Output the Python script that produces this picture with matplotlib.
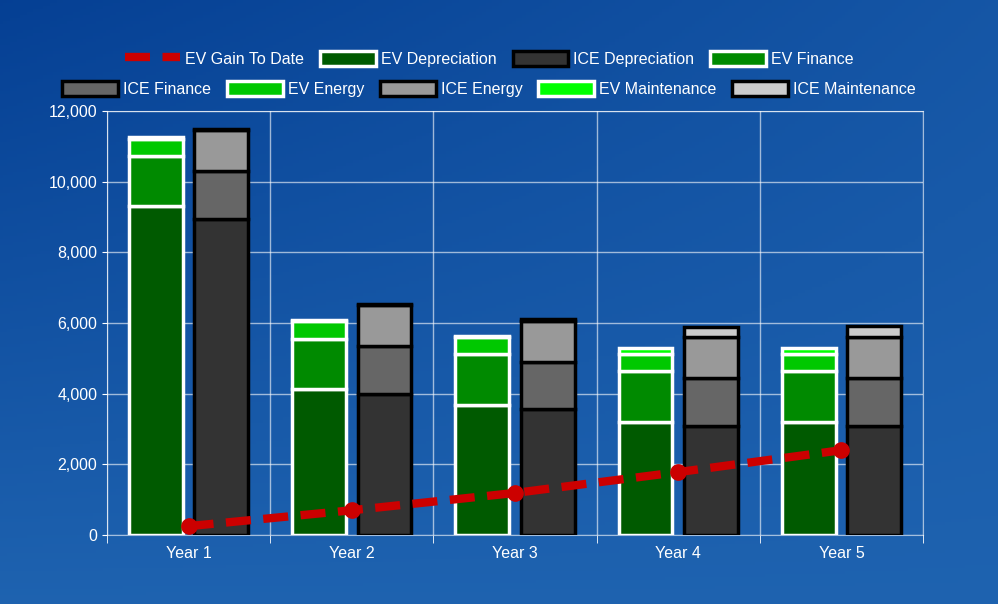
import numpy as np
import matplotlib.pyplot as plt
from matplotlib.patches import Patch
from matplotlib.lines import Line2D

plt.rcParams["font.family"] = "Liberation Sans"

years = ["Year 1", "Year 2", "Year 3", "Year 4", "Year 5"]
ev_depreciation = [9300, 4130, 3680, 3200, 3200]
ev_finance = [1430, 1420, 1440, 1440, 1440]
ev_energy = [480, 500, 480, 480, 480]
ev_maintenance = [40, 30, 30, 170, 170]
ice_depreciation = [8950, 3990, 3570, 3090, 3090]
ice_finance = [1350, 1360, 1330, 1360, 1360]
ice_energy = [1160, 1160, 1160, 1160, 1160]
ice_maintenance = [40, 40, 40, 280, 310]
ev_gain = [250, 700, 1190, 1780, 2400]

fig = plt.figure(figsize=(9.98, 6.04), dpi=100)

# sky-like background gradient
bg = fig.add_axes([0, 0, 1, 1], zorder=-10)
yy, xx = np.mgrid[0:1:200j, 0:1:300j]
t = np.clip(0.55 * yy + 0.35 * xx * (1 - yy), 0, 1)
c0 = np.array([0.02, 0.25, 0.58])
c1 = np.array([0.20, 0.50, 0.78])
img = c0 + (c1 - c0) * t[..., None]
bg.imshow(img, aspect="auto", extent=[0, 1, 0, 1], origin="upper")
bg.axis("off")

ax = fig.add_axes([107 / 998, 1 - 535 / 604, (923 - 107) / 998, (535 - 111) / 604])
ax.patch.set_alpha(0)
x = np.arange(len(years))
w = 0.33
off = 0.2

ev_cols = ["#005a00", "#008a00", "#00c800", "#00ff00"]
ice_cols = ["#333333", "#666666", "#999999", "#cccccc"]
ev_stack = [ev_depreciation, ev_finance, ev_energy, ev_maintenance]
ice_stack = [ice_depreciation, ice_finance, ice_energy, ice_maintenance]

bottom = np.zeros(len(years))
for vals, col in zip(ev_stack, ev_cols):
    ax.bar(x - off, vals, w, bottom=bottom, color=col, edgecolor="white", linewidth=2.5, zorder=3)
    bottom += vals
bottom = np.zeros(len(years))
for vals, col in zip(ice_stack, ice_cols):
    ax.bar(x + off, vals, w, bottom=bottom, color=col, edgecolor="black", linewidth=2.5, zorder=3)
    bottom += vals

ax.plot(x, ev_gain, color="#cc0000", lw=6, dashes=(3, 1.5), marker="o", ms=11, zorder=5)

ax.set_xlim(-0.5, 4.5)
ax.set_ylim(0, 12000)
ax.set_yticks(range(0, 12001, 2000))
ax.yaxis.set_major_formatter(plt.FuncFormatter(lambda v, p: f"{int(v):,}"))
ax.set_xticks(x)
ax.set_xticklabels(years)
ax.set_xticks(np.arange(-0.5, 5, 1), minor=True)
ax.grid(True, which="minor", axis="x", color="white", alpha=0.6, lw=1)
ax.grid(True, which="major", axis="y", color="white", alpha=0.6, lw=1)
ax.tick_params(colors="white", labelsize=11.5, which="both")
ax.tick_params(axis="x", which="major", length=0, pad=8)
ax.tick_params(axis="x", which="minor", length=6)
for s in ax.spines.values():
    s.set_color("white")
    s.set_alpha(0.6)

def box(fc, ec):
    return Patch(facecolor=fc, edgecolor=ec, linewidth=2.5)

row1 = [Line2D([], [], color="#cc0000", lw=6, dashes=(3, 1.5)), box(ev_cols[0], "white"),
        box(ice_cols[0], "black"), box(ev_cols[1], "white")]
lab1 = ["EV Gain To Date", "EV Depreciation", "ICE Depreciation", "EV Finance"]
row2 = [box(ice_cols[1], "black"), box(ev_cols[2], "white"), box(ice_cols[2], "black"),
        box(ev_cols[3], "white"), box(ice_cols[3], "black")]
lab2 = ["ICE Finance", "EV Energy", "ICE Energy", "EV Maintenance", "ICE Maintenance"]
for h, l, yp in [(row1, lab1, 0.903), (row2, lab2, 0.853)]:
    fig.legend(h, l, loc="center", bbox_to_anchor=(0.49, yp), ncol=len(h), frameon=False,
               labelcolor="white", fontsize=11.5, handlelength=3.5, handleheight=1.1,
               columnspacing=1.0, handletextpad=0.3)

fig.savefig("out.png", dpi=100)
